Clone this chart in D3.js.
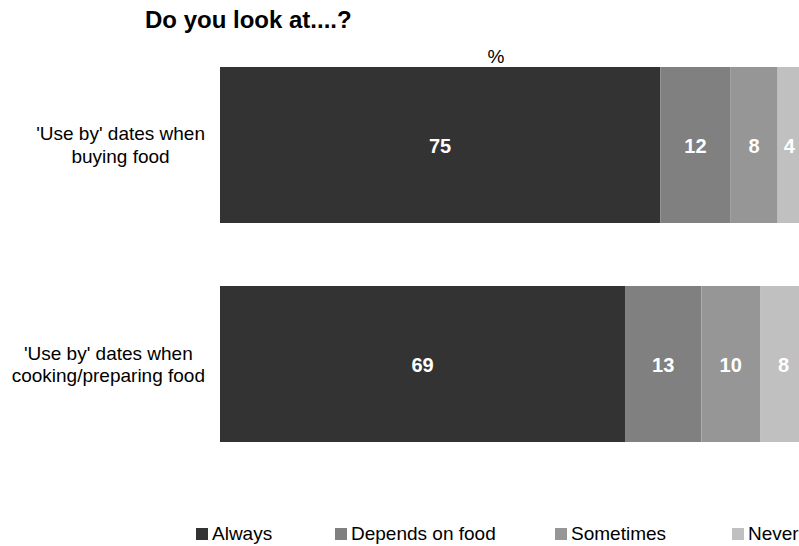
<!DOCTYPE html>
<html>
<head>
<meta charset="utf-8">
<script src="https://cdn.jsdelivr.net/npm/d3@7"></script>
<style>
  html, body { margin: 0; padding: 0; background: #fff; overflow: hidden; }
  svg { display: block; font-family: "Liberation Sans", Arial, sans-serif; }
</style>
</head>
<body>
<svg id="chart" width="799" height="546"></svg>
<script>
// ---- data ----
const categories = [
  ["'Use by' dates when", "buying food"],
  ["'Use by' dates when", "cooking/preparing food"]
];
const seriesNames = ["Always", "Depends on food", "Sometimes", "Never"];
const always = [75, 69];
const dependsOnFood = [12, 13];
const sometimes = [8, 10];
const never = [4, 8];
const seriesColors = ["#333333", "#808080", "#969696", "#c0c0c0"];
const titleText = "Do you look at....?";
const unitText = "%";

// ---- build table ----
const seriesValues = [always, dependsOnFood, sometimes, never];
const rows = categories.map((c, i) => {
  const r = { key: i };
  seriesNames.forEach((s, j) => r[s] = seriesValues[j][i]);
  return r;
});
const stacked = d3.stack().keys(seriesNames)(rows);

const svg = d3.select("#chart");

const x = d3.scaleLinear().domain([0, 100]).range([220, 807]);
const y = d3.scaleBand().domain(d3.range(categories.length))
  .range([35.5, 473.5]).paddingInner(0.2877).paddingOuter(0.1438);
const color = d3.scaleOrdinal().domain(seriesNames).range(seriesColors);

// title
svg.append("text").attr("x", 145).attr("y", 28)
  .attr("font-size", 24).attr("font-weight", "bold").attr("fill", "#000")
  .text(titleText);
svg.append("text").attr("x", 496).attr("y", 63).attr("text-anchor", "middle")
  .attr("font-size", 19).attr("fill", "#000").text(unitText);

// bars
const layers = svg.append("g").selectAll("g").data(stacked).join("g")
  .attr("fill", d => color(d.key));
layers.selectAll("rect").data(d => d).join("rect")
  .attr("x", d => x(d[0]))
  .attr("width", d => x(d[1]) - x(d[0]))
  .attr("y", (d, i) => y(i))
  .attr("height", y.bandwidth());

// value labels
const lab = svg.append("g").attr("font-size", 20).attr("font-weight", "bold")
  .attr("fill", "#fff").attr("text-anchor", "middle");
stacked.forEach(layer => {
  layer.forEach((d, i) => {
    lab.append("text")
      .attr("x", (x(d[0]) + x(d[1])) / 2)
      .attr("y", y(i) + y.bandwidth() / 2 + 8)
      .text(d[1] - d[0]);
  });
});

// category labels
const catG = svg.append("g").attr("font-size", 19).attr("fill", "#000");
categories.forEach((lines, i) => {
  const cy = y(i) + y.bandwidth() / 2;
  const g = catG.append("g");
  const texts = lines.map((l, k) => g.append("text")
    .attr("y", cy - 4.5 + k * 22.5).attr("text-anchor", "middle").text(l));
  const maxW = d3.max(texts, t => t.node().getComputedTextLength());
  const cx = 205 - maxW / 2;
  texts.forEach(t => t.attr("x", cx));
});

// legend
const legendX = [196, 335, 555, 732];
const leg = svg.append("g").attr("font-size", 19).attr("fill", "#000");
seriesNames.forEach((s, i) => {
  const lx = legendX[i];
  leg.append("rect").attr("x", lx).attr("y", 528).attr("width", 12).attr("height", 12)
    .attr("fill", color(s));
  leg.append("text").attr("x", lx + 16).attr("y", 540).text(s);
});
</script>
</body>
</html>
